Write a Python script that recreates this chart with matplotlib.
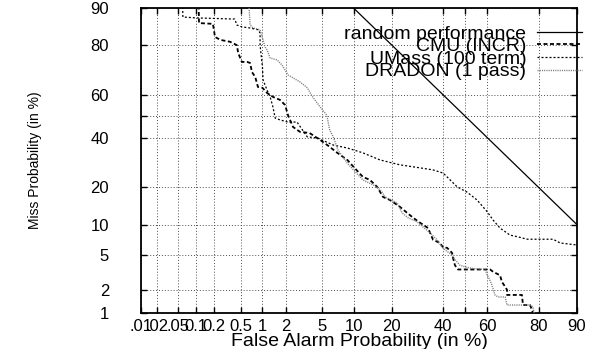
"""DET plot: miss vs false alarm probability on normal-deviate axes."""

from math import erf

import matplotlib
matplotlib.use("Agg")
import matplotlib.pyplot as plt
import numpy as np
from matplotlib import font_manager
from matplotlib.lines import Line2D

# ---- data (percent) -------------------------------------------------------
rand_fa = [10, 90]
rand_miss = [90, 10]

cmu_fa = [0.109, 0.113, 0.19, 0.205, 0.25, 0.35, 0.44, 0.46, 0.52, 0.62,
          0.68, 0.72, 0.80, 0.87, 1.0, 1.15, 1.37, 1.68, 1.94, 2.10,
          2.41, 2.9, 3.7, 4.8, 6.0, 7.1, 8.8, 10, 12.0, 13.7,
          15.6, 17.3, 19.4, 22.7, 25.2, 27.5, 30.2, 33.5, 34.3, 35.6,
          38.6, 40, 41.7, 44.0, 44.4, 45.3, 46.7, 61.2, 62.5, 65.5,
          66.3, 67.6, 68.4, 68.4, 74.2, 74.6, 77.1, 77.8, 78.5]
cmu_miss = [95, 86.5, 86.3, 82.6, 81.7, 81.1, 80.0, 77.3, 74.0, 74.0,
            73.6, 70.0, 67.9, 63.6, 63.2, 60.9, 59.1, 57.7, 55.3, 50.6,
            45.0, 42.7, 42.2, 39.0, 35.9, 33.3, 30.3, 27.5, 23.7, 22.6,
            20.2, 17.0, 16.1, 14.2, 12.7, 11.5, 10.4, 9.3, 8.4, 7.2,
            6.7, 6.0, 6.0, 5.3, 4.7, 3.9, 3.5, 3.5, 3.3, 3.0,
            2.5, 2.2, 2.0, 1.73, 1.73, 1.28, 1.28, 1.10, 0.88]

umass_fa = [0.058, 0.060, 0.097, 0.41, 0.44, 0.52, 0.68, 0.87, 0.93, 0.93,
            1.0, 1.02, 1.15, 1.26, 1.37, 1.46, 1.68, 2.10, 2.68, 3.5,
            4.5, 6.5, 8.8, 12.0, 16.4, 22.7, 30.2, 35.6, 40, 43.1,
            46.3, 50.8, 55.4, 60, 62.5, 65.5, 69.6, 72.7, 76.1, 80.5,
            84.3, 86.2, 90]
umass_miss = [95, 88.0, 87.8, 87.5, 86.0, 85.5, 85.2, 84.7, 83.8, 80.0,
              72.0, 66.6, 62.2, 59.1, 54.4, 49.2, 48.3, 47.3, 47.3, 40.4,
              39.9, 36.7, 35.4, 33.3, 30.3, 28.3, 27.1, 26.3, 25.1, 22.6,
              20.2, 18.5, 16.1, 12.9, 11.0, 9.3, 8.0, 7.7, 7.3, 7.3,
              7.3, 6.7, 6.4]

dradon_fa = [0.62, 0.68, 0.75, 0.93, 1.02, 1.08, 1.15, 1.26, 1.54, 1.78,
             2.10, 2.9, 3.5, 4.0, 4.8, 5.6, 6.0, 6.5, 7.2, 8.8,
             10, 12.0, 15.6, 17.0, 17.9, 21.7, 23.4, 25.6, 29.0, 34.3,
             37.3, 39.5, 40.8, 44.0, 45.3, 47.6, 50.8, 53.1, 59.0, 60,
             61.2, 62.0, 63.3, 64.7, 67.6, 68.4, 77.1, 78.1, 78.8]
dradon_miss = [95, 86.0, 85.2, 84.7, 81.7, 79.4, 78.4, 75.5, 74.8, 72.8,
               68.8, 65.8, 63.2, 59.1, 54.4, 50.6, 43.6, 40.4, 34.5, 29.0,
               26.3, 22.6, 20.2, 18.5, 17.0, 15.3, 12.7, 11.5, 10.6, 8.4,
               7.2, 6.1, 5.7, 5.05, 4.5, 3.9, 3.7, 3.6, 3.5, 3.0,
               2.6, 2.3, 1.73, 1.63, 1.63, 1.28, 1.28, 1.21, 0.88]

x_ticks = [.01, .02, .05, .1, .2, .5, 1, 2, 5, 10, 20, 40, 60, 80, 90]
x_ticklabels = [".01", ".02", ".05", "0.1", "0.2", "0.5", "1", "2", "5",
                "10", "20", "40", "60", "80", "90"]
y_ticks = [1, 2, 5, 10, 20, 40, 60, 80, 90]
y_ticklabels = ["1", "2", "5", "10", "20", "40", "60", "80", "90"]
extra_grid = [50]

# ---- normal deviate scale -------------------------------------------------
_erf = np.vectorize(erf)


def norm_cdf(z):
    return 0.5 * (1.0 + _erf(np.asarray(z, float) / np.sqrt(2.0)))


def norm_ppf(p):
    p = np.clip(np.asarray(p, float), 1e-9, 1 - 1e-9)
    lo = np.full(p.shape, -8.0)
    hi = np.full(p.shape, 8.0)
    for _ in range(55):
        mid = 0.5 * (lo + hi)
        below = norm_cdf(mid) < p
        lo = np.where(below, mid, lo)
        hi = np.where(below, hi, mid)
    return 0.5 * (lo + hi)


def fwd(pct):
    return norm_ppf(np.asarray(pct, float) / 100.0)


def inv(z):
    return 100.0 * norm_cdf(z)


# ---- fonts ----------------------------------------------------------------
plt.rcParams["font.family"] = ["Liberation Sans", "DejaVu Sans"]
installed = {f.name for f in font_manager.fontManager.ttflist}
if "Liberation Sans Narrow" in installed:
    ylab_font, ylab_size = ["Liberation Sans Narrow"], 12
else:
    ylab_font, ylab_size = ["Liberation Sans"], 10

fig = plt.figure(figsize=(5.92, 3.49), dpi=100)
ax = fig.add_axes([0.2382, 0.1032, 0.7365, 0.8739])
ax.set_xscale("function", functions=(fwd, inv))
ax.set_yscale("function", functions=(fwd, inv))

grid_kw = dict(color="0.3", linewidth=0.7, linestyle=(0, (1, 2)))
ax.plot(rand_fa, rand_miss, color="black", lw=0.9, zorder=3)
ax.plot(cmu_fa, cmu_miss, color="black", lw=1.3, dashes=(2.2, 1.4), zorder=4)
ax.plot(umass_fa, umass_miss, color="black", lw=0.9, dashes=(1.6, 1.6), zorder=4)
ax.plot(dradon_fa, dradon_miss, color="#7a7a7a", lw=1.0, dashes=(0.8, 0.8), zorder=4)

ax.set_xlim(0.01, 90)
ax.set_ylim(1, 90)
ax.set_xticks(x_ticks)
ax.set_xticklabels(x_ticklabels)
ax.set_yticks(y_ticks)
ax.set_yticklabels(y_ticklabels)
ax.set_xticks(extra_grid, minor=True)
ax.set_yticks(extra_grid, minor=True)
ax.grid(True, which="both", **grid_kw)
ax.set_axisbelow(True)

ax.tick_params(axis="both", which="both", direction="in", length=4, width=1,
               top=True, right=True, labelsize=12)
ax.tick_params(axis="x", which="major", pad=4)
ax.tick_params(axis="y", which="major", pad=23)
for s in ax.spines.values():
    s.set_linewidth(1.3)

ax.set_xlabel("False Alarm Probability (in %)", fontsize=14, va="center")
ax.xaxis.set_label_coords(0.5, -0.093)
ax.set_ylabel("Miss Probability (in %)", family=ylab_font, fontsize=ylab_size,
              va="center")
ax.yaxis.set_label_coords(-0.243, 0.5)

handles = [
    Line2D([], [], color="black", lw=0.9),
    Line2D([], [], color="black", lw=1.3, dashes=(2.2, 1.4)),
    Line2D([], [], color="black", lw=0.9, dashes=(1.6, 1.6)),
    Line2D([], [], color="#7a7a7a", lw=1.0, dashes=(0.8, 0.8)),
]
labels = ["random performance", "CMU (INCR)", "UMass (100 term)", "DRADON (1 pass)"]
ax.legend(handles, labels, loc="upper right", bbox_to_anchor=(1.011, 0.944),
          frameon=False, markerfirst=False, fontsize=14, borderpad=0,
          borderaxespad=0, handlelength=2.3, handletextpad=0.55,
          labelspacing=-0.26)

fig.savefig("out.png", dpi=100)
